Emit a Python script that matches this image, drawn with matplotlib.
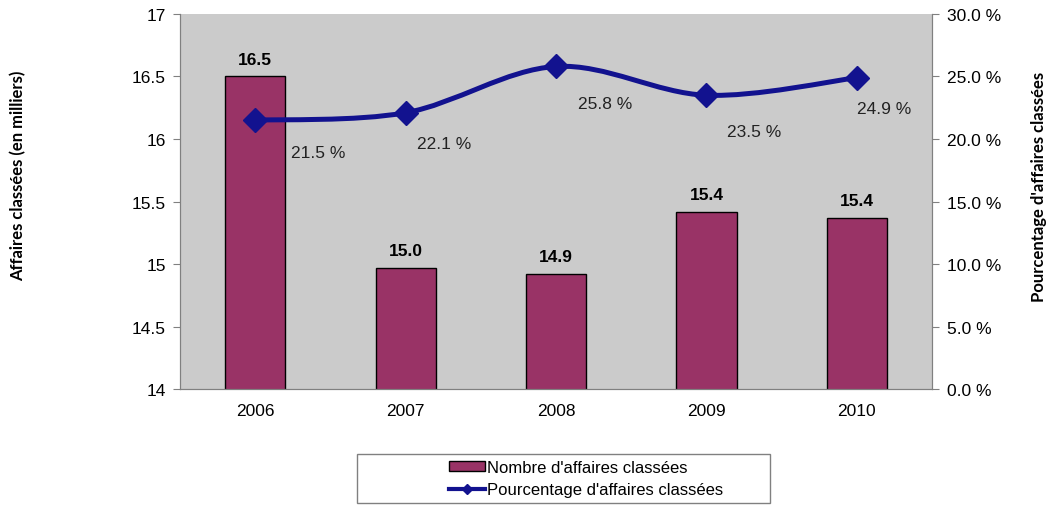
import numpy as np
import matplotlib.pyplot as plt
from matplotlib.path import Path
from matplotlib.patches import PathPatch, Rectangle
from matplotlib.lines import Line2D
from matplotlib.ticker import FuncFormatter

# --- Données ---
annees = ["2006", "2007", "2008", "2009", "2010"]
affaires = [16.5, 14.97, 14.92, 15.42, 15.37]          # en milliers
affaires_lbl = ["16.5", "15.0", "14.9", "15.4", "15.4"]
pourcentage = [21.5, 22.1, 25.8, 23.5, 24.9]           # en %

couleur_barre = "#993366"
couleur_ligne = "#12128f"
police = "Liberation Sans"
taille = 12.5

fig = plt.figure(figsize=(10.52, 5.06), dpi=100)
ax = fig.add_axes([0.1711, 0.2292, 0.7149, 0.7412])
ax.set_facecolor("#cbcbcb")

x = np.arange(len(annees))
ax.bar(x, affaires, width=0.4, bottom=0, color=couleur_barre, edgecolor="black",
       linewidth=1.0, zorder=2)
ax.set_ylim(14, 17)
ax.set_xlim(-0.5, len(annees) - 0.5)
ax.set_yticks([14, 14.5, 15, 15.5, 16, 16.5, 17])
ax.yaxis.set_major_formatter(FuncFormatter(lambda v, p: f"{v:g}"))
ax.set_xticks(x)
ax.set_xticklabels(annees)
ax.tick_params(axis="x", length=0, pad=10, labelsize=taille)
ax.tick_params(axis="y", length=5, color="#808080", labelsize=taille, pad=5)
for lbl in ax.get_xticklabels() + ax.get_yticklabels():
    lbl.set_family(police)

for xi, v, t in zip(x, affaires, affaires_lbl):
    ax.annotate(t, (xi, v), xytext=(0, 7), textcoords="offset points",
                ha="center", va="bottom", fontsize=taille, fontweight="bold",
                family=police, zorder=3)

for s in ["top", "bottom", "left", "right"]:
    ax.spines[s].set_color("#808080")
ax.spines["top"].set_visible(False)

# --- Axe secondaire : pourcentage ---
ax2 = ax.twinx()
ax2.set_ylim(0, 30)
ax2.set_yticks(np.arange(0, 31, 5))
ax2.yaxis.set_major_formatter(FuncFormatter(lambda v, p: f"{v:.1f} %"))
ax2.tick_params(axis="y", length=5, color="#808080", labelsize=taille, pad=6)
for lbl in ax2.get_yticklabels():
    lbl.set_family(police)
for s in ["top", "bottom", "left", "right"]:
    ax2.spines[s].set_color("#808080")
ax2.spines["top"].set_visible(False)

# courbe lissée (Bézier passant par les points)
P = np.column_stack([x, pourcentage]).astype(float)
Pe = np.vstack([P[0], P, P[-1]])
verts = [tuple(P[0])]
codes = [Path.MOVETO]
for i in range(len(P) - 1):
    c1 = Pe[i + 1] + (Pe[i + 2] - Pe[i]) / 6
    c2 = Pe[i + 2] - (Pe[i + 3] - Pe[i + 1]) / 6
    verts += [tuple(c1), tuple(c2), tuple(P[i + 1])]
    codes += [Path.CURVE4] * 3
ax2.add_patch(PathPatch(Path(verts, codes), facecolor="none",
                        edgecolor=couleur_ligne, linewidth=3.6, zorder=4))
ax2.plot(x, pourcentage, linestyle="none", marker="D", markersize=12,
         color=couleur_ligne, zorder=5)

decalage_lbl = [(26, -23), (8, -22), (16, -27), (15, -26), (0, -22)]
for xi, v, d in zip(x, pourcentage, decalage_lbl):
    ax2.annotate(f"{v:.1f} %", (xi, v), xytext=d, textcoords="offset points",
                 ha="left", va="center", fontsize=taille, family=police,
                 color="#222222", zorder=6)

# --- Titres des axes ---
fig.text(0.017, 0.652, "Affaires classées (en milliers)", rotation=90,
         ha="center", va="center", fontsize=12, fontweight="bold", family="Lato")
fig.text(0.988, 0.63, "Pourcentage d'affaires classées", rotation=90,
         ha="center", va="center", fontsize=12, fontweight="bold", family="Lato")

# --- Légende ---
fig.patches.append(Rectangle((0.3394, 0.004), 0.393, 0.097, transform=fig.transFigure,
                             facecolor="white", edgecolor="#808080", linewidth=1.0))
poignees = [Rectangle((0, 0), 1, 1, facecolor=couleur_barre, edgecolor="black"),
            Line2D([], [], color=couleur_ligne, linewidth=3, marker="D", markersize=5)]
fig.legend(poignees, ["Nombre d'affaires classées", "Pourcentage d'affaires classées"],
           loc="center", bbox_to_anchor=(0.557, 0.052), frameon=False,
           prop={"family": police, "size": 12}, handlelength=2.2, handletextpad=0.1,
           labelspacing=0.45, borderpad=0, handleheight=0.6)

fig.savefig("out.png", dpi=100)
